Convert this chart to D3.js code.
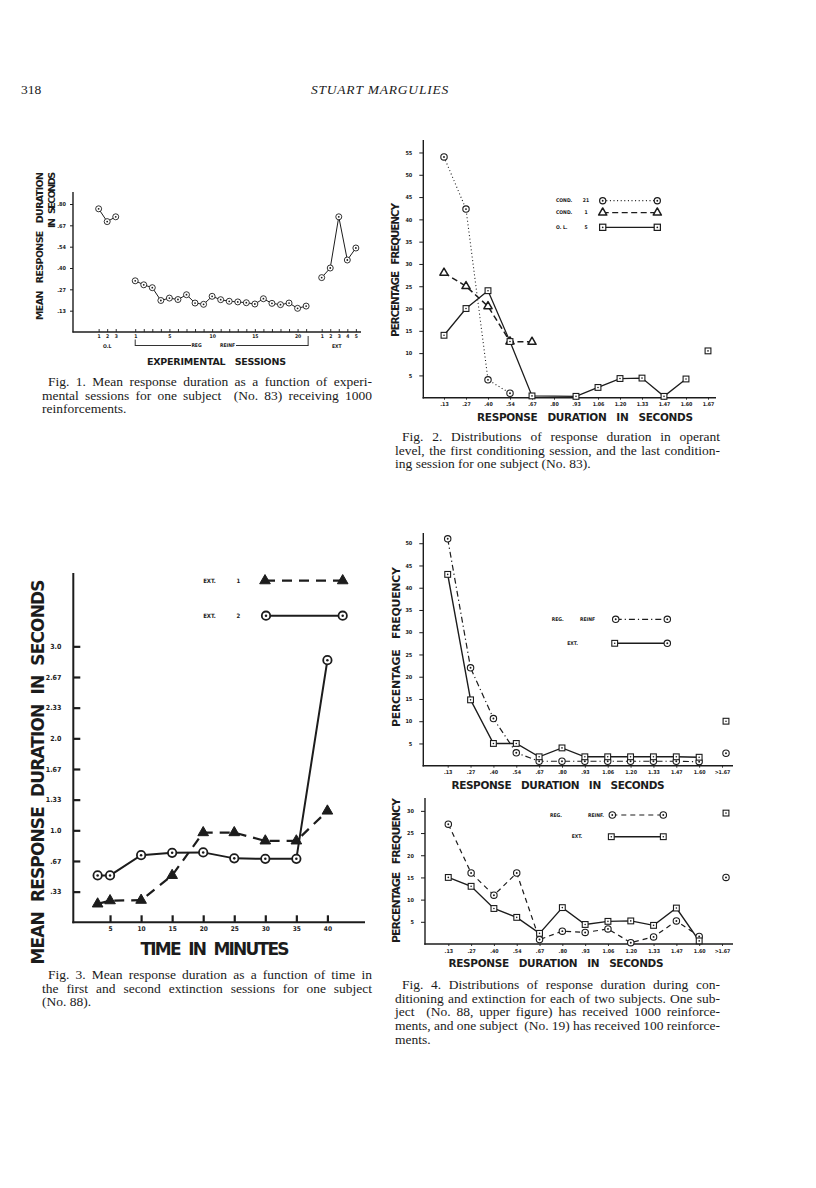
<!DOCTYPE html>
<html>
<head>
<meta charset="utf-8">
<script src="https://cdn.jsdelivr.net/npm/d3@7"></script>
<style>
body { margin: 0; background: #fff; }
.cap { font-family: "Liberation Serif", serif; font-size: 13.5px; fill: #1a1a1a; }
.tk { font-family: "DejaVu Sans Condensed", "DejaVu Sans", sans-serif; font-weight: bold; fill: #1c1c1c; }
.ttl { font-family: "DejaVu Sans", sans-serif; font-weight: bold; fill: #1c1c1c; }
</style>
</head>
<body>
<svg id="page" width="816" height="1188"></svg>
<script>
// ---- Fig. 1 data: mean response duration per session ----
var f1YTicks = [0.1333, 0.2667, 0.4, 0.5333, 0.6667, 0.8];
var f1YLabels = [".13", ".27", ".40", ".54", ".67", ".80"];
var f1OlValues = [0.77, 0.69, 0.72];
var f1RegValues = [0.32, 0.295, 0.277, 0.197, 0.212, 0.203, 0.233, 0.181, 0.173, 0.223, 0.202,
                   0.192, 0.188, 0.183, 0.175, 0.208, 0.179, 0.171, 0.181, 0.148, 0.162];
var f1ExtValues = [0.34, 0.40, 0.72, 0.45, 0.525];
var f1RegLabelled = [1, 5, 10, 15, 20];

// ---- Fig. 2 data: percentage frequency per duration class ----
var f2Cats = [".13", ".27", ".40", ".54", ".67", ".80", ".93", "1.06", "1.20", "1.33", "1.47", "1.60", "1.67"];
var f2Cond21 = [54, 42.3, 4, 1];
var f2Cond1 = [28, 25, 20.5, 12.6, 12.5];
var f2OL = [14, 20, 24, 12.6, 0.4, null, 0.3, 2.3, 4.3, 4.4, 0.3, 4.2];
var f2OLOver = 10.5;
var f2YTicks = [5, 10, 15, 20, 25, 30, 35, 40, 45, 50, 55];

// ---- Fig. 3 data: mean response duration over time in extinction ----
var f3Minutes = [3, 5, 10, 15, 20, 25, 30, 35, 40];
var f3Ext1 = [0.20, 0.235, 0.24, 0.51, 0.975, 0.975, 0.885, 0.885, 1.21];
var f3Ext2 = [0.51, 0.51, 0.73, 0.755, 0.76, 0.695, 0.69, 0.69, 2.85];
var f3XTicks = [5, 10, 15, 20, 25, 30, 35, 40];
var f3YTicks = [0.3333, 0.6667, 1, 1.3333, 1.6667, 2, 2.3333, 2.6667, 3];
var f3YLabels = [".33", ".67", "1.0", "1.33", "1.67", "2.0", "2.33", "2.67", "3.0"];

// ---- Fig. 4 data: two subjects ----
var f4Cats = [".13", ".27", ".40", ".54", ".67", ".80", ".93", "1.06", "1.20", "1.33", "1.47", "1.60", ">1.67"];
var f4aReg = [51, 22, 10.6, 2.9, 1, 1, 1, 1, 1, 1, 1, 0.9];
var f4aRegOver = 2.8;
var f4aExt = [43, 14.8, 5, 5, 2, 4, 2, 2, 2, 2, 2, 1.9];
var f4aExtOver = 10;
var f4aYTicks = [5, 10, 15, 20, 25, 30, 35, 40, 45, 50];
var f4bReg = [27, 16, 11, 16, 1, 2.9, 2.6, 3.4, 0.3, 1.6, 5.2, 1.7];
var f4bRegOver = 15;
var f4bExt = [15, 13, 8, 6, 2.4, 8.2, 4.4, 5.1, 5.2, 4.2, 8.1, 0.7];
var f4bExtOver = 29.5;
var f4bYTicks = [5, 10, 15, 20, 25, 30];

var ink = "#1c1c1c";
var svg = d3.select("#page");
svg.append("rect").attr("width", 816).attr("height", 1188).attr("fill", "#fff");

// helpers
function styleAxis(sel, fs, sw) {
	sel.select(".domain").remove();
	sel.attr("font-family", null).attr("font-size", null);
	sel.selectAll(".tick line").attr("stroke", ink).attr("stroke-width", sw);
	sel.selectAll(".tick text").attr("class", "tk").attr("font-size", fs);
}

function rule(g, x1, y1, x2, y2, w) {
	g.append("line").attr("x1", x1).attr("y1", y1).attr("x2", x2).attr("y2", y2)
		.attr("stroke", ink).attr("stroke-width", w);
}

function marker(g, kind, cx, cy, s, sw, filled) {
	if (kind == "circle") {
		g.append("circle").attr("cx", cx).attr("cy", cy).attr("r", s)
			.attr("fill", "#fff").attr("stroke", ink).attr("stroke-width", sw);
		g.append("circle").attr("cx", cx).attr("cy", cy).attr("r", Math.max(0.7, s * 0.3)).attr("fill", ink);
	} else if (kind == "square") {
		g.append("rect").attr("x", cx - s).attr("y", cy - s).attr("width", 2 * s).attr("height", 2 * s)
			.attr("fill", "#fff").attr("stroke", ink).attr("stroke-width", sw);
		g.append("circle").attr("cx", cx).attr("cy", cy).attr("r", Math.max(0.6, s * 0.28)).attr("fill", ink);
	} else {
		g.append("path").attr("d", d3.symbol(d3.symbolTriangle, s * s * 4)())
			.attr("transform", "translate(" + cx + "," + cy + ")")
			.attr("fill", filled ? ink : "#fff").attr("stroke", ink).attr("stroke-width", sw)
			.attr("stroke-linejoin", "round");
	}
}

function series(g, pts, dash, w) {
	var line = d3.line().x(function(d) { return d.x; }).y(function(d) { return d.y; });
	g.append("path").attr("d", line(pts)).attr("fill", "none").attr("stroke", ink)
		.attr("stroke-width", w).attr("stroke-dasharray", dash);
}

function label(g, t, x, y, fs, anchor, cls) {
	return g.append("text").attr("class", cls || "tk").attr("x", x).attr("y", y).attr("dy", "0.35em")
		.attr("font-size", fs).attr("text-anchor", anchor || "middle").style("white-space", "pre").text(t);
}

function hTitle(g, t, cx, cy, len, fs) {
	label(g, t, cx, cy, fs, "middle", "ttl").attr("textLength", len).attr("lengthAdjust", "spacing");
}

function vTitle(g, t, cx, cy, len, fs) {
	g.append("text").attr("class", "ttl").attr("transform", "translate(" + cx + "," + cy + ") rotate(-90)")
		.attr("text-anchor", "middle").attr("dy", "0.35em").attr("font-size", fs)
		.attr("textLength", len).attr("lengthAdjust", "spacing").style("white-space", "pre").text(t);
}

// justified caption: stretch word gaps on every line but the last
function caption(lines, x0, w, y0, indent) {
	lines.forEach(function(t, i) {
		var ind = i == 0 ? indent : 0;
		var tx = svg.append("text").attr("class", "cap").attr("x", x0 + ind).attr("y", y0 + i * 13.7)
			.style("white-space", "pre").text(t);
		if (i < lines.length - 1) {
			var gaps = (t.match(/ /g) || []).length;
			var extra = (w - ind) - tx.node().getComputedTextLength();
			if (gaps > 0) tx.attr("word-spacing", (extra / gaps).toFixed(2));
		}
	});
}

// page head
svg.append("text").attr("class", "cap").attr("x", 21).attr("y", 94).attr("font-size", 14).text("318");
svg.append("text").attr("class", "cap").attr("x", 380).attr("y", 94).attr("font-size", 14.5)
	.attr("font-style", "italic").attr("text-anchor", "middle").attr("letter-spacing", 0.8).text("STUART MARGULIES");

// ================= Fig. 1 =================
var g1 = svg.append("g");
var x1 = d3.scaleLinear().domain([0, 33.7]).range([73, 361]);
var y1 = d3.scaleLinear().domain([0, 0.875]).range([332, 192]);
// slot offsets of the three phases along the session axis
var olOff = 2, regOff = 6.28, extOff = 28.1;

g1.append("g").attr("transform", "translate(73,0)")
	.call(d3.axisLeft(y1).tickValues(f1YTicks).tickFormat(function(d, i) { return f1YLabels[i]; })
		.tickSize(3).tickPadding(4))
	.call(styleAxis, 5.5, 1);

var f1Slots = [], f1Lab = {};
[1, 2, 3].forEach(function(s) { f1Slots.push(s + olOff); f1Lab[s + olOff] = String(s); });
f1RegValues.forEach(function(v, i) {
	f1Slots.push(i + 1 + regOff);
	if (f1RegLabelled.indexOf(i + 1) >= 0) f1Lab[i + 1 + regOff] = String(i + 1);
});
f1ExtValues.forEach(function(v, i) { f1Slots.push(i + 1 + extOff); f1Lab[i + 1 + extOff] = String(i + 1); });
g1.append("g").attr("transform", "translate(0,332)")
	.call(d3.axisBottom(x1).tickValues(f1Slots).tickFormat(function(d) { return f1Lab[d] || ""; })
		.tickSizeInner(-3).tickSizeOuter(0).tickPadding(2))
	.call(styleAxis, 5, 0.9);
rule(g1, 73, 192, 73, 332.5, 1.4);
rule(g1, 72.5, 332, 361, 332, 1.4);

// bracket under the regular reinforcement sessions
var bx0 = x1(1 + regOff), bx1 = x1(21 + regOff) + 2;
rule(g1, bx0, 339.5, bx0, 346, 0.9);
rule(g1, bx1, 336, bx1, 346, 0.9);
rule(g1, bx0, 345.5, 191, 345.5, 0.9);
rule(g1, 236, 345.5, bx1, 345.5, 0.9);
label(g1, "O.L", x1(2 + olOff), 346.5, 5);
label(g1, "REG", 196.5, 345.5, 5);
label(g1, "REINF", 227.5, 345.5, 5);
label(g1, "EXT", x1(3 + extOff) - 2, 346.5, 5);

function f1Pts(vals, off) {
	return vals.map(function(v, i) { return { x: x1(i + 1 + off), y: y1(v) }; });
}
[f1Pts(f1OlValues, olOff), f1Pts(f1RegValues, regOff), f1Pts(f1ExtValues, extOff)].forEach(function(p) {
	series(g1, p, null, 1);
	p.forEach(function(d) { marker(g1, "circle", d.x, d.y, 3, 0.9); });
});
hTitle(g1, "EXPERIMENTAL   SESSIONS", 216.5, 362, 139, 9.5);
vTitle(g1, "MEAN   RESPONSE   DURATION", 40, 246, 148, 9.5);
vTitle(g1, "IN   SECONDS", 51.5, 200, 56, 9.5);

caption(["Fig. 1. Mean response duration as a function of experi-",
	"mental sessions for one subject  (No. 83) receiving 1000",
	"reinforcements."], 42, 330, 386, 6);

// ================= Fig. 2 =================
var g2 = svg.append("g");
var x2 = d3.scalePoint().domain(f2Cats).range([444, 708]);
var y2 = d3.scaleLinear().domain([0, 57.8]).range([397.7, 140]);
g2.append("g").attr("transform", "translate(423.3,0)")
	.call(d3.axisLeft(y2).tickValues(f2YTicks).tickSize(4).tickPadding(7))
	.call(styleAxis, 5.5, 1);
g2.append("g").attr("transform", "translate(0,397.7)")
	.call(d3.axisBottom(x2).tickSize(2).tickPadding(2.5))
	.call(styleAxis, 5.3, 0.9);
rule(g2, 423.3, 140, 423.3, 398.4, 1.4);
rule(g2, 422.6, 397.7, 716, 397.7, 1.4);

function catPts(vals, xs, ys, cats) {
	var out = [];
	vals.forEach(function(v, i) { if (v != null) out.push({ x: xs(cats[i]), y: ys(v) }); });
	return out;
}
var p21 = catPts(f2Cond21, x2, y2, f2Cats);
var p1 = catPts(f2Cond1, x2, y2, f2Cats);
var pOL = catPts(f2OL, x2, y2, f2Cats);
series(g2, p21, "1,2.6", 1.1);
series(g2, p1, "6,3.5", 1.5);
series(g2, pOL, null, 1.3);
p21.forEach(function(d) { marker(g2, "circle", d.x, d.y, 3.2, 1.1); });
p1.forEach(function(d) { marker(g2, "triangle", d.x, d.y, 2.7, 1.5); });
pOL.forEach(function(d) { marker(g2, "square", d.x, d.y, 2.9, 1.1); });
marker(g2, "square", x2("1.67"), y2(f2OLOver), 2.9, 1.1);

// legend
var lg2 = [["COND.", "21", "circle", "1,2.6", 200.7], ["COND.", "1", "triangle", "6,3.5", 212.7],
	["O. L.", "5", "square", null, 227.3]];
lg2.forEach(function(r) {
	var tri = r[2] == "triangle";
	label(g2, r[0], 556, r[4], 5, "start");
	label(g2, r[1], 586, r[4], 5);
	series(g2, [{ x: 602.7, y: r[4] }, { x: 657.3, y: r[4] }], r[3], r[2] == "square" ? 1.3 : 1.2);
	marker(g2, r[2], 602.7, r[4], tri ? 2.7 : 3.1, tri ? 1.5 : 1.2);
	marker(g2, r[2], 657.3, r[4], tri ? 2.7 : 3.1, tri ? 1.5 : 1.2);
});
vTitle(g2, "PERCENTAGE   FREQUENCY", 395, 270, 134, 10.5);
hTitle(g2, "RESPONSE   DURATION   IN   SECONDS", 585, 417, 216, 10.5);

caption(["Fig. 2. Distributions of response duration in operant",
	"level, the first conditioning session, and the last condition-",
	"ing session for one subject (No. 83)."], 395, 325, 441, 7);

// ================= Fig. 3 =================
var g3 = svg.append("g");
var x3 = d3.scaleLinear().domain([0, 40]).range([79, 327.4]);
var y3 = d3.scaleLinear().domain([0, 3.794]).range([922.3, 573.3]);
g3.append("g").attr("transform", "translate(73.3,0)")
	.call(d3.axisLeft(y3).tickValues(f3YTicks).tickFormat(function(d, i) { return f3YLabels[i]; })
		.tickSizeInner(-7).tickSizeOuter(0).tickPadding(12))
	.call(styleAxis, 7, 2.2);
g3.append("g").attr("transform", "translate(0,922.3)")
	.call(d3.axisBottom(x3).tickValues(f3XTicks).tickSizeInner(-7).tickSizeOuter(0).tickPadding(4))
	.call(styleAxis, 6.5, 2.2);
rule(g3, 73.3, 573, 73.3, 923.3, 2);
rule(g3, 72.3, 922.3, 365, 922.3, 2);

var e1 = f3Minutes.map(function(t, i) { return { x: x3(t), y: y3(f3Ext1[i]) }; });
var e2 = f3Minutes.map(function(t, i) { return { x: x3(t), y: y3(f3Ext2[i]) }; });
series(g3, e1, "10,7", 2.2);
series(g3, e2, null, 2);
e1.forEach(function(d) { marker(g3, "triangle", d.x, d.y, 3.5, 1, true); });
e2.forEach(function(d) { marker(g3, "circle", d.x, d.y, 4.2, 1.8); });

label(g3, "EXT.", 209.5, 580.7, 6);
label(g3, "1", 238.3, 580.7, 6);
series(g3, [{ x: 265, y: 580.7 }, { x: 342.7, y: 580.7 }], "10,7", 2.2);
marker(g3, "triangle", 265, 580.7, 3.5, 1, true);
marker(g3, "triangle", 342.7, 580.7, 3.5, 1, true);
label(g3, "EXT.", 209.5, 615.7, 6);
label(g3, "2", 238.3, 615.7, 6);
series(g3, [{ x: 266, y: 615.7 }, { x: 342.7, y: 615.7 }], null, 2);
marker(g3, "circle", 266, 615.7, 4.2, 1.8);
marker(g3, "circle", 342.7, 615.7, 4.2, 1.8);

hTitle(g3, "TIME  IN  MINUTES", 215, 949.5, 149, 17);
vTitle(g3, "MEAN  RESPONSE  DURATION  IN  SECONDS", 38, 772, 385, 17);

caption(["Fig. 3. Mean response duration as a function of time in",
	"the first and second extinction sessions for one subject",
	"(No. 88)."], 42, 330, 979, 6);

// ================= Fig. 4 =================
function fig4(top, bottom, yMaxAxis, xr, yAxisX, ticks, reg, regOver, ext, extOver, regDash, lg) {
	var g = svg.append("g");
	var x = d3.scalePoint().domain(f4Cats).range(xr);
	var y = d3.scaleLinear().domain([0, yMaxAxis]).range([bottom, top]);
	g.append("g").attr("transform", "translate(" + yAxisX + ",0)")
		.call(d3.axisLeft(y).tickValues(ticks).tickSize(4).tickPadding(7))
		.call(styleAxis, 5.5, 1);
	g.append("g").attr("transform", "translate(0," + bottom + ")")
		.call(d3.axisBottom(x).tickSize(2).tickPadding(3))
		.call(styleAxis, 5.3, 0.9);
	rule(g, yAxisX, top, yAxisX, bottom + 0.7, 1.4);
	rule(g, yAxisX - 0.7, bottom, 733, bottom, 1.4);
	var pr = catPts(reg, x, y, f4Cats), pe = catPts(ext, x, y, f4Cats);
	series(g, pr, regDash, 1.2);
	series(g, pe, null, 1.4);
	pr.forEach(function(d) { marker(g, "circle", d.x, d.y, 3.2, 1.1); });
	pe.forEach(function(d) { marker(g, "square", d.x, d.y, 2.9, 1.1); });
	marker(g, "circle", x(">1.67") + 4, y(regOver), 3.2, 1.1);
	marker(g, "square", x(">1.67") + 4, y(extOver), 2.9, 1.1);
	// legend
	label(g, "REG.", lg.regX, lg.y1, 5, "start");
	label(g, lg.reinf, lg.reinfX, lg.y1, 5, "start");
	series(g, [{ x: lg.a, y: lg.y1 }, { x: lg.b, y: lg.y1 }], regDash, 1.2);
	marker(g, "circle", lg.a, lg.y1, 3.2, 1.1);
	marker(g, "circle", lg.b, lg.y1, 3.2, 1.1);
	label(g, "EXT.", lg.extX, lg.y2, 5, "start");
	series(g, [{ x: lg.a - 1, y: lg.y2 }, { x: lg.b, y: lg.y2 }], null, 1.4);
	marker(g, "square", lg.a - 1, lg.y2, 2.9, 1.1);
	marker(g, lg.endKind, lg.b, lg.y2, lg.endKind == "circle" ? 3.2 : 2.9, 1.1);
	return g;
}

var g4a = fig4(533, 765.7, 52.3, [447.7, 722], 423.3, f4aYTicks, f4aReg, f4aRegOver, f4aExt, f4aExtOver,
	"6,3,1.2,3", { y1: 619.3, y2: 643.3, regX: 551.7, reinfX: 580, reinf: "REINF", extX: 567.3, a: 615.7, b: 667.3, endKind: "circle" });
vTitle(g4a, "PERCENTAGE   FREQUENCY", 396, 647, 160, 11);
hTitle(g4a, "RESPONSE   DURATION   IN   SECONDS", 558, 785, 213, 10.5);

var g4b = fig4(798, 944, 32.9, [448.3, 722], 425, f4bYTicks, f4bReg, f4bRegOver, f4bExt, f4bExtOver,
	"5,4", { y1: 815, y2: 836.7, regX: 550, reinfX: 588, reinf: "REINF.", extX: 571.7, a: 612.3, b: 663.3, endKind: "square" });
vTitle(g4b, "PERCENTAGE   FREQUENCY", 396, 870.5, 145, 11);
hTitle(g4b, "RESPONSE   DURATION   IN   SECONDS", 556, 963.5, 215, 10.5);

caption(["Fig. 4. Distributions of response duration during con-",
	"ditioning and extinction for each of two subjects. One sub-",
	"ject  (No. 88, upper figure) has received 1000 reinforce-",
	"ments, and one subject  (No. 19) has received 100 reinforce-",
	"ments."], 395, 325, 989, 7);
</script>
</body>
</html>
